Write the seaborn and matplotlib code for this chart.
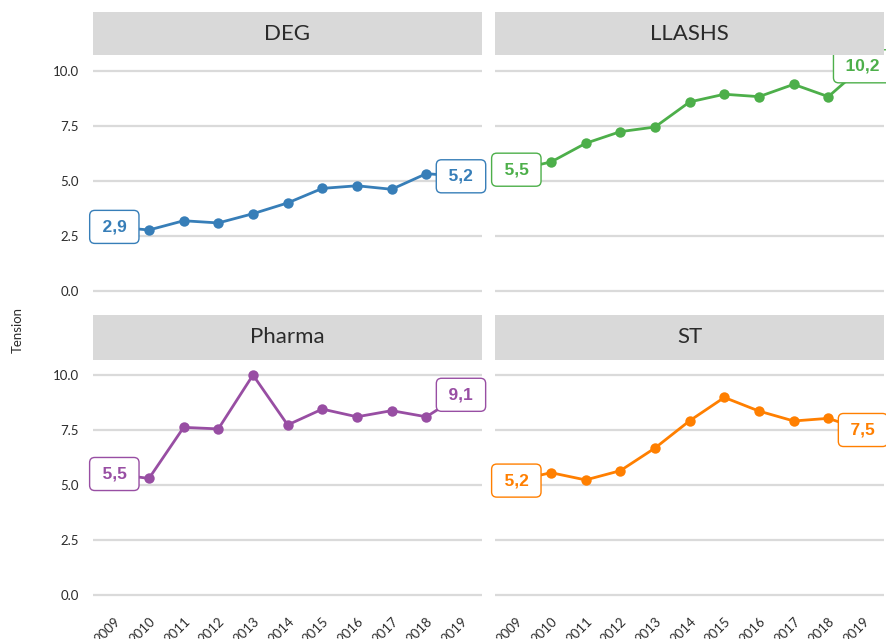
import matplotlib
matplotlib.use("Agg")
import matplotlib.pyplot as plt
import seaborn as sns
import pandas as pd

# ---- data ----
years = [2009, 2010, 2011, 2012, 2013, 2014, 2015, 2016, 2017, 2018, 2019]
groups = ["DEG", "LLASHS", "Pharma", "ST"]
deg = [2.9, 2.76, 3.18, 3.08, 3.5, 3.99, 4.65, 4.77, 4.61, 5.32, 5.2]
llashs = [5.5, 5.85, 6.7, 7.23, 7.44, 8.58, 8.93, 8.82, 9.38, 8.82, 10.2]
pharma = [5.5, 5.3, 7.62, 7.55, 10.0, 7.73, 8.45, 8.1, 8.38, 8.1, 9.1]
st = [5.2, 5.56, 5.23, 5.65, 6.68, 7.92, 8.98, 8.36, 7.91, 8.03, 7.5]
colors = ["#377EB8", "#4DAF4A", "#984EA3", "#FF7F00"]
y_ticks = [0.0, 2.5, 5.0, 7.5, 10.0]
y_label = "Tension"

series = dict(zip(groups, [deg, llashs, pharma, st]))
df = pd.concat(
    [pd.DataFrame({"year": years, "tension": v, "group": g}) for g, v in series.items()],
    ignore_index=True,
)

sns.set_theme(style="white")
plt.rcParams["font.family"] = ["Lato", "DejaVu Sans"]

W, H = 887, 639
fig = plt.figure(figsize=(W / 100, H / 100), dpi=100)
fig.patch.set_facecolor("white")


def rect(x0, y0, x1, y1):
    return [x0 / W, 1 - y1 / H, (x1 - x0) / W, (y1 - y0) / H]


panels = {
    "DEG": ((93, 55.3, 482, 301.7), (93, 12, 482, 55.3), 0, 0),
    "LLASHS": ((495, 55.3, 884, 301.7), (495, 12, 884, 55.3), 0, 1),
    "Pharma": ((93, 359.6, 482, 606), (93, 315, 482, 359.6), 1, 0),
    "ST": ((495, 359.6, 884, 606), (495, 315, 884, 359.6), 1, 1),
}

grid_color = "#DADADA"
strip_color = "#D9D9D9"
text_color = "#2b2b2b"
thin = "\u2009"

for g, col in zip(groups, colors):
    prect, srect, row, c = panels[g]
    ax = fig.add_axes(rect(*prect))
    sub = df[df["group"] == g]
    sns.lineplot(data=sub, x="year", y="tension", color=col, linewidth=2,
                 marker="o", markersize=7.5, markeredgewidth=0, ax=ax,
                 legend=False, zorder=3)
    ax.set_xlim(2008.385, 2019.606)
    ax.set_ylim(-0.5, 10.7)
    ax.set_yticks(y_ticks)
    ax.set_yticklabels([f"{t:.1f}" for t in y_ticks])
    ax.set_xticks(years)
    ax.grid(False)
    for t in y_ticks:
        ax.axhline(t, color=grid_color, linewidth=1.6, zorder=1)
    for s in ax.spines.values():
        s.set_visible(False)
    ax.set_xlabel("")
    ax.set_ylabel("")
    ax.tick_params(axis="y", length=0, pad=10, labelsize=9.5, labelcolor=text_color,
                   labelleft=(c == 0))
    if row == 1:
        ax.tick_params(axis="x", length=4.5, width=1.3, color="#333333",
                       direction="out", pad=2, labelsize=9.5, labelcolor=text_color)
        ax.set_xticklabels([str(y) for y in years], rotation=45, ha="right",
                           rotation_mode="anchor")
    else:
        ax.tick_params(axis="x", length=0, labelbottom=False)

    vals = series[g]
    for xi, vi in [(years[0], vals[0]), (years[-1], vals[-1])]:
        ax.text(xi, vi, thin + f"{vi:.1f}".replace(".", ",") + thin,
                ha="center", va="center", color=col, fontsize=12.5,
                fontweight="bold", family=["Liberation Sans", "DejaVu Sans"],
                zorder=5, clip_on=False,
                bbox=dict(boxstyle="round,pad=0.52,rounding_size=0.3",
                          facecolor="white", edgecolor=col, linewidth=1))

    sax = fig.add_axes(rect(*srect))
    sax.set_facecolor(strip_color)
    sax.set_xticks([])
    sax.set_yticks([])
    for s in sax.spines.values():
        s.set_visible(False)
    sax.text(0.5, 0.5, g, ha="center", va="center", fontsize=16,
             color=text_color, transform=sax.transAxes)

fig.text(18 / W, 1 - 330 / H, y_label, rotation=90, ha="center", va="center",
         fontsize=9.5, color=text_color)

fig.savefig("out.png", dpi=100)
